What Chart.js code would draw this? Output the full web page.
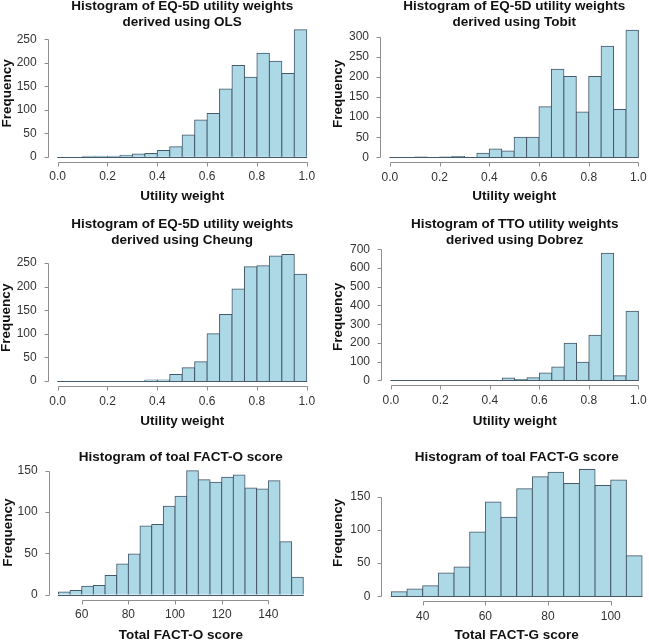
<!DOCTYPE html>
<html>
<head>
<meta charset="utf-8">
<script src="https://cdn.jsdelivr.net/npm/chart.js@4.4.1/dist/chart.umd.min.js"></script>
<style>
  html, body { margin: 0; padding: 0; background: #fff; overflow: hidden; }
  body { width: 649px; height: 641px; position: relative; }
  canvas { position: absolute; }
</style>
</head>
<body>
<canvas id="ols"></canvas>
<canvas id="tobit"></canvas>
<canvas id="cheung"></canvas>
<canvas id="dobrez"></canvas>
<canvas id="factO"></canvas>
<canvas id="factG"></canvas>
<script>
// bin edges (categories)
const utilityBreaks = [0.00, 0.05, 0.10, 0.15, 0.20, 0.25, 0.30, 0.35, 0.40, 0.45, 0.50,
                       0.55, 0.60, 0.65, 0.70, 0.75, 0.80, 0.85, 0.90, 0.95, 1.00];
const factOBreaks = [50, 55, 60, 65, 70, 75, 80, 85, 90, 95, 100, 105, 110, 115, 120,
                     125, 130, 135, 140, 145, 150, 155];
const factGBreaks = [30, 35, 40, 45, 50, 55, 60, 65, 70, 75, 80, 85, 90, 95, 100, 105, 110];

// frequencies
const olsCounts    = [0, 0, 1, 1, 1, 3, 6, 7, 13, 21, 46, 78, 92, 144, 194, 169, 220, 203, 177, 270];
const tobitCounts  = [0, 0, 1, 0, 1, 2, 0, 10, 21, 16, 50, 50, 126, 219, 201, 113, 201, 276, 119, 316];
const cheungCounts = [0, 0, 0, 0, 0, 0, 0, 2, 2, 14, 28, 41, 100, 141, 195, 242, 244, 265, 268, 226];
const dobrezCounts = [0, 0, 0, 0, 0, 0, 0, 0, 0, 12, 4, 14, 39, 71, 198, 96, 241, 679, 25, 369];
const factOCounts  = [3, 5, 10, 11, 23, 37, 49, 83, 85, 107, 119, 150, 139, 136, 142, 145, 129, 128, 138, 64, 21];
const factGCounts  = [7, 11, 16, 35, 44, 97, 142, 119, 162, 180, 187, 170, 191, 167, 175, 61];

// tick labels
const utilityTicks = [0.0, 0.2, 0.4, 0.6, 0.8, 1.0];
const olsTicksY    = [0, 50, 100, 150, 200, 250];
const tobitTicksY  = [0, 50, 100, 150, 200, 250, 300];
const cheungTicksY = [0, 50, 100, 150, 200, 250];
const dobrezTicksY = [0, 100, 200, 300, 400, 500, 600, 700];
const factOTicksX  = [60, 80, 100, 120, 140];
const factOTicksY  = [0, 50, 100, 150];
const factGTicksX  = [40, 60, 80, 100];
const factGTicksY  = [0, 50, 100, 150];

const FONT = "'Liberation Sans', Arial, Helvetica, sans-serif";
const BAR_FILL = '#add8e6';
const BAR_EDGE = '#46596a';
const AXIS = '#8e8e8e';
const TICK_LEN = 4;
const TITLE_SIZE = 13.5;
const TITLE_LH = 1.22;
const AXTITLE_SIZE = 13.5;

// R style axes: line from first to last tick, short ticks outside, plus the bar baseline
const rAxes = {
  id: 'rAxes',
  afterDatasetsDraw(chart, args, opts) {
    const {ctx, chartArea: a, scales: {x, y}} = chart;
    const br = opts.breaks;
    ctx.save();
    ctx.lineWidth = 1;
    ctx.strokeStyle = BAR_EDGE;
    const y0 = Math.round(y.getPixelForValue(0)) + 0.5;
    ctx.beginPath();
    ctx.moveTo(x.getPixelForValue(br[0]) - 0.5, y0);
    ctx.lineTo(x.getPixelForValue(br[br.length - 1]) + 0.5, y0);
    ctx.stroke();

    ctx.strokeStyle = AXIS;
    const xb = Math.round(a.bottom) + 0.5;
    const xs = x.ticks.map(t => Math.round(x.getPixelForValue(t.value)) + 0.5);
    ctx.beginPath();
    ctx.moveTo(xs[0], xb);
    ctx.lineTo(xs[xs.length - 1], xb);
    xs.forEach(p => { ctx.moveTo(p, xb); ctx.lineTo(p, xb + TICK_LEN); });
    const yl = Math.round(a.left) + 0.5;
    const ys = y.ticks.map(t => Math.round(y.getPixelForValue(t.value)) + 0.5);
    ctx.moveTo(yl, ys[0]);
    ctx.lineTo(yl, ys[ys.length - 1]);
    ys.forEach(p => { ctx.moveTo(yl, p); ctx.lineTo(yl - TICK_LEN, p); });
    ctx.stroke();
    ctx.restore();
  }
};

function histogram(id, s) {
  const canvas = document.getElementById(id);
  const [L, T, W, H] = s.box;
  canvas.width = W;
  canvas.height = H;
  canvas.style.left = L + 'px';
  canvas.style.top = T + 'px';

  const a = s.area;
  const lh = TITLE_SIZE * TITLE_LH;
  const titleTop = s.titleY - lh / 2;
  const axLh = AXTITLE_SIZE * 1.2;
  const br = s.breaks;
  const span = br[br.length - 1] - br[0];
  const top = Math.max(...s.counts);

  const points = s.counts.map((c, i) => ({x: (br[i] + br[i + 1]) / 2, y: c}));

  new Chart(canvas, {
    type: 'bar',
    data: {
      datasets: [{
        data: points,
        backgroundColor: BAR_FILL,
        borderColor: BAR_EDGE,
        borderWidth: 1,
        inflateAmount: 0.5,
        barPercentage: 1,
        categoryPercentage: 1
      }]
    },
    options: {
      responsive: false,
      animation: false,
      layout: {
        padding: {left: 0, right: (L + W) - a.r, top: titleTop - T, bottom: 0}
      },
      plugins: {
        legend: {display: false},
        tooltip: {enabled: false},
        title: {
          display: true,
          text: s.title,
          fullSize: false,
          color: '#111',
          font: {family: FONT, size: TITLE_SIZE, weight: 'bold', lineHeight: TITLE_LH},
          padding: {top: 0, bottom: a.t - titleTop - s.title.length * lh}
        },
        rAxes: {breaks: br}
      },
      scales: {
        x: {
          type: 'linear',
          offset: false,
          min: br[0] - 0.04 * span,
          max: br[br.length - 1] + 0.04 * span,
          grid: {display: false, drawTicks: false},
          border: {display: false},
          afterBuildTicks: sc => { sc.ticks = s.xTicks.map(v => ({value: v})); },
          afterFit: sc => { sc.height = (T + H) - a.b; },
          ticks: {
            autoSkip: false, maxRotation: 0, padding: 8, color: '#333',
            font: {family: FONT, size: 12},
            callback: s.xFormat
          },
          title: {
            display: true, text: s.xTitle, color: '#111',
            font: {family: FONT, size: AXTITLE_SIZE, weight: 'bold', lineHeight: 1.2},
            padding: {top: 0, bottom: (T + H) - s.xTitleY - axLh / 2}
          }
        },
        y: {
          type: 'linear',
          min: -0.04 * top,
          max: 1.04 * top,
          grid: {display: false, drawTicks: false},
          border: {display: false},
          afterBuildTicks: sc => { sc.ticks = s.yTicks.map(v => ({value: v})); },
          afterFit: sc => { sc.width = a.l - L; },
          ticks: {
            autoSkip: false, padding: 11, color: '#333',
            font: {family: FONT, size: 12}
          },
          title: {
            display: true, text: 'Frequency', color: '#111',
            font: {family: FONT, size: AXTITLE_SIZE, weight: 'bold', lineHeight: 1.2},
            padding: {top: s.yTitleX - L - axLh / 2, bottom: 0}
          }
        }
      }
    },
    plugins: [rAxes]
  });
}

const oneDecimal = v => v.toFixed(1);

histogram('ols', {
  box: [-10, -10, 335, 220], area: {l: 47.7, t: 24.8, r: 316.7, b: 161.8},
  titleY: 6, xTitleY: 196.7, yTitleX: 7.5,
  title: ['Histogram of EQ-5D utility weights', 'derived using OLS'],
  xTitle: 'Utility weight', breaks: utilityBreaks, counts: olsCounts,
  xTicks: utilityTicks, yTicks: olsTicksY, xFormat: oneDecimal
});
histogram('tobit', {
  box: [325, -10, 330, 220], area: {l: 380, t: 25.2, r: 650, b: 162.4},
  titleY: 6, xTitleY: 196.7, yTitleX: 338.3,
  title: ['Histogram of EQ-5D utility weights', 'derived using Tobit'],
  xTitle: 'Utility weight', breaks: utilityBreaks, counts: tobitCounts,
  xTicks: utilityTicks, yTicks: tobitTicksY, xFormat: oneDecimal
});
histogram('cheung', {
  box: [-10, 205, 335, 225], area: {l: 47.7, t: 249.4, r: 316.7, b: 386.1},
  titleY: 224, xTitleY: 421, yTitleX: 6.7,
  title: ['Histogram of EQ-5D utility weights', 'derived using Cheung'],
  xTitle: 'Utility weight', breaks: utilityBreaks, counts: cheungCounts,
  xTicks: utilityTicks, yTicks: cheungTicksY, xFormat: oneDecimal
});
histogram('dobrez', {
  box: [325, 205, 330, 225], area: {l: 381, t: 248.2, r: 650.3, b: 385.4},
  titleY: 224, xTitleY: 421, yTitleX: 338.3,
  title: ['Histogram of TTO utility weights', 'derived using Dobrez'],
  xTitle: 'Utility weight', breaks: utilityBreaks, counts: dobrezCounts,
  xTicks: utilityTicks, yTicks: dobrezTicksY, xFormat: oneDecimal
});
histogram('factO', {
  box: [-10, 440, 335, 215], area: {l: 48.6, t: 465.8, r: 313.1, b: 599.5},
  titleY: 457.3, xTitleY: 635, yTitleX: 8.3,
  title: ['Histogram of toal FACT-O score'],
  xTitle: 'Total FACT-O score', breaks: factOBreaks, counts: factOCounts,
  xTicks: factOTicksX, yTicks: factOTicksY, xFormat: v => String(v)
});
histogram('factG', {
  box: [325, 440, 330, 215], area: {l: 381.3, t: 464.4, r: 652.1, b: 601.4},
  titleY: 457.3, xTitleY: 635, yTitleX: 338.3,
  title: ['Histogram of toal FACT-G score'],
  xTitle: 'Total FACT-G score', breaks: factGBreaks, counts: factGCounts,
  xTicks: factGTicksX, yTicks: factGTicksY, xFormat: v => String(v)
});
</script>
</body>
</html>
